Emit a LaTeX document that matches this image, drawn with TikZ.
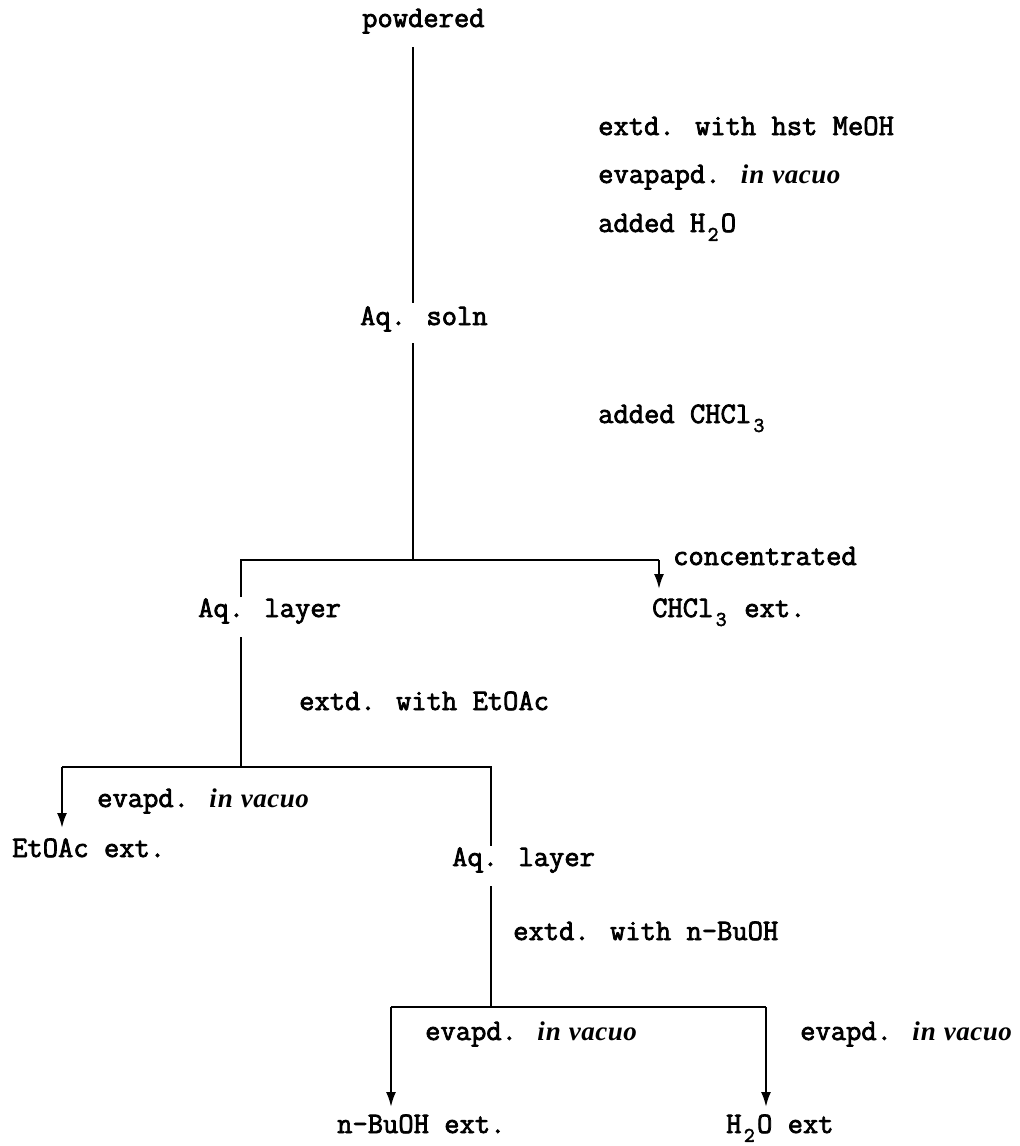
\documentclass[tikz,border=0pt]{standalone}
\usepackage{fontspec}
\usetikzlibrary{arrows.meta}
\newfontfamily\tw{Latin Modern Mono}[RawFeature={embolden=2.5}]
\newfontfamily\bisf{Liberation Serif}
\newcommand\iv{{\bisf\fontsize{27}{30}\selectfont\bfseries\itshape i\kern1pt n\hspace{8pt}v\kern0.5pt a\kern0.5pt c\kern0.5pt u\kern0.5pt o}}
\newcommand\sbt[1]{\makebox[0.525em]{\raisebox{-0.3em}{\fontsize{21}{21}\selectfont #1}}}
\tikzset{
  txt/.style={anchor=base west, inner sep=0pt, font=\tw\fontsize{29.7}{34}\selectfont},
  conn/.style={line width=2.2pt},
  arr/.style={line width=2.2pt, -{Latex[length=15pt,width=10pt]}}
}
\begin{document}
\begin{tikzpicture}[x=1pt, y=-1pt]
\fill[white] (0,0) rectangle (1020,1146);
\useasboundingbox (0,0) rectangle (1020,1146);

% texts
\node[txt] (powd) at (362,27) {powdered};
\node[txt] (l1) at (598,135) {extd. with hst MeOH};
\node[txt] (l2) at (598,183) {evapapd. \iv};
\node[txt] (l3) at (598,232) {added H\sbt{2}O};
\node[txt] (soln) at (360,325) {Aq. soln};
\node[txt] (l4) at (598,423) {added CHCl\sbt{3}};
\node[txt] (conc) at (673,565) {concentrated};
\node[txt] (aq1) at (198,617) {Aq. layer};
\node[txt] (chcl) at (652,617) {CHCl\sbt{3} ext.};
\node[txt] (l5) at (299,710) {extd. with EtOAc};
\node[txt] (l6) at (97,807) {evapd. \iv};
\node[txt] (etoac) at (12,857) {EtOAc ext.};
\node[txt] (aq2) at (452,866) {Aq. layer};
\node[txt] (l7) at (513,940) {extd. with n-BuOH};
\node[txt] (l8) at (425,1040) {evapd. \iv};
\node[txt] (l9) at (800,1040) {evapd. \iv};
\node[txt] (buoh) at (337,1133) {n-BuOH ext.};
\node[txt] (h2o) at (726,1133) {H\sbt{2}O ext};

% connector points
\coordinate (a0) at (413,47);
\coordinate (a1) at (413,303);
\coordinate (a2) at (413,343);
\coordinate (j1) at (413,560);
\coordinate (j1L) at (241,560);
\coordinate (j1R) at (659,560);
\coordinate (t1R) at (659,589);
\coordinate (t1L) at (241,597);
\coordinate (b0) at (241,637);
\coordinate (j2) at (241,767);
\coordinate (j2L) at (62,767);
\coordinate (j2R) at (491,767);
\coordinate (t2L) at (62,828);
\coordinate (t2R) at (491,846);
\coordinate (c0) at (491,886);
\coordinate (j3) at (491,1007);
\coordinate (j3L) at (391,1007);
\coordinate (j3R) at (766,1007);
\coordinate (t3L) at (391,1107);
\coordinate (t3R) at (766,1107);

% connectors
\draw[conn] (a0) -- (a1);
\draw[conn] (a2) -- (j1);
\draw[conn] (t1L) -- (j1L) -- (j1R);
\draw[arr] (j1R) -- (t1R);
\draw[conn] (b0) -- (j2);
\draw[conn] (j2L) -- (j2R) -- (t2R);
\draw[arr] (j2L) -- (t2L);
\draw[conn] (c0) -- (j3);
\draw[conn] (j3L) -- (j3R);
\draw[arr] (j3L) -- (t3L);
\draw[arr] (j3R) -- (t3R);
\end{tikzpicture}
\end{document}
